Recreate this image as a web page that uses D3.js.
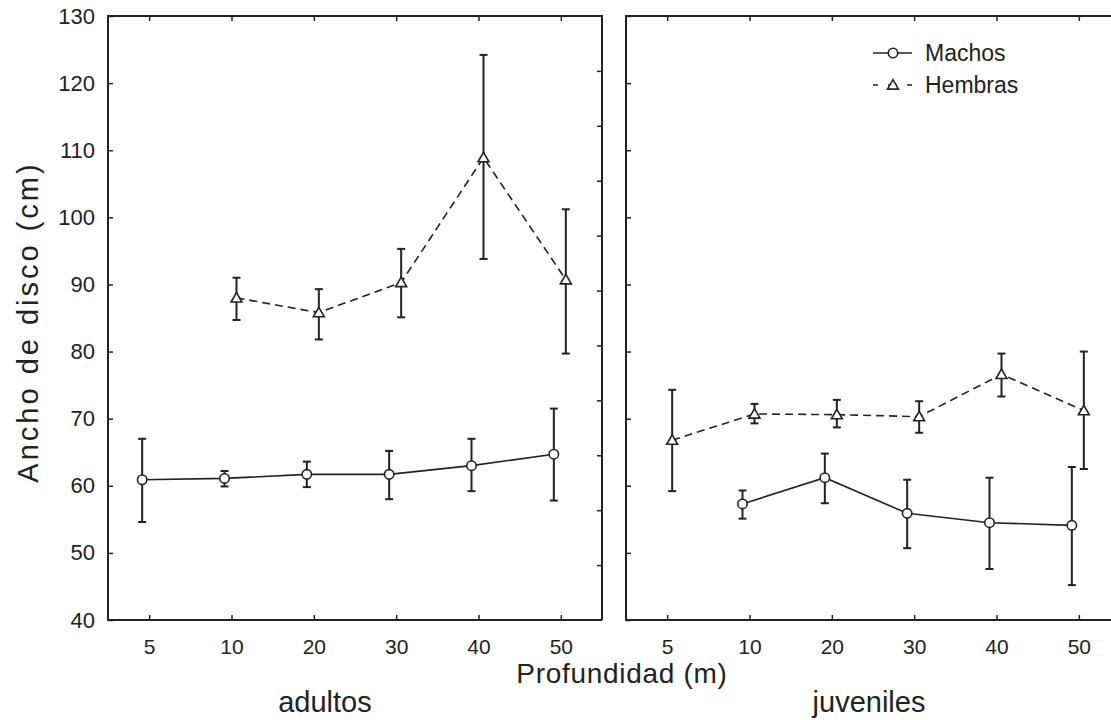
<!DOCTYPE html>
<html>
<head>
<meta charset="utf-8">
<script src="https://cdn.jsdelivr.net/npm/d3@7"></script>
<style>
  html, body { margin: 0; padding: 0; background: #fff; }
  svg { display: block; font-family: "Liberation Sans", Arial, sans-serif; }
</style>
</head>
<body>
<div id="graph"></div>
<script>
// Depth categories (x axis)
const depths = ["5", "10", "20", "30", "40", "50"];
const yTicks = [40, 50, 60, 70, 80, 90, 100, 110, 120, 130];

// adultos: means and error bar ends (null = no data)
const adultosMachos = [60.9, 61.1, 61.7, 61.7, 63.0, 64.7];
const adultosMachosHi = [67.0, 62.2, 63.6, 65.2, 67.0, 71.5];
const adultosMachosLo = [54.6, 59.9, 59.8, 58.0, 59.2, 57.8];
const adultosHembras = [null, 88.0, 85.8, 90.3, 108.9, 90.7];
const adultosHembrasHi = [null, 91.0, 89.3, 95.3, 124.2, 101.2];
const adultosHembrasLo = [null, 84.7, 81.8, 85.1, 93.8, 79.7];

// juveniles
const juvenilesMachos = [null, 57.3, 61.2, 55.9, 54.5, 54.1];
const juvenilesMachosHi = [null, 59.3, 64.8, 60.9, 61.2, 62.8];
const juvenilesMachosLo = [null, 55.1, 57.4, 50.7, 47.6, 45.2];
const juvenilesHembras = [66.8, 70.7, 70.6, 70.3, 76.6, 71.2];
const juvenilesHembrasHi = [74.3, 72.2, 72.8, 72.6, 79.7, 80.0];
const juvenilesHembrasLo = [59.2, 69.3, 68.7, 67.9, 73.3, 62.5];

const W = 1111, H = 720;
const ink = "#222";
const plotTop = 16, plotBottom = 620;

const svg = d3.select("#graph").append("svg")
  .attr("width", W).attr("height", H);

const y = d3.scaleLinear().domain([40, 130]).range([plotBottom, plotTop]);

function series(mean, hi, lo) {
  return depths.map((d, i) => ({ depth: d, v: mean[i], hi: hi[i], lo: lo[i] }))
    .filter(p => p.v != null);
}

const panels = [
  {
    name: "adultos", x0: 108, x1: 602, labels: true, labelX: 325,
    machos: series(adultosMachos, adultosMachosHi, adultosMachosLo),
    hembras: series(adultosHembras, adultosHembrasHi, adultosHembrasLo),
  },
  {
    name: "juveniles", x0: 626, x1: 1120, labels: false, labelX: 869,
    machos: series(juvenilesMachos, juvenilesMachosHi, juvenilesMachosLo),
    hembras: series(juvenilesHembras, juvenilesHembrasHi, juvenilesHembrasLo),
  },
];

const triangle = d3.symbol().type(d3.symbolTriangle).size(52);

panels.forEach((p, pi) => {
  const x = d3.scalePoint().domain(depths).range([p.x0, p.x1]).padding(0.5);
  const g = svg.append("g");

  // Bottom axis, ticks pointing in
  const bAxis = g.append("g")
    .attr("transform", `translate(0,${plotBottom})`)
    .call(d3.axisBottom(x).tickSizeInner(-5).tickSizeOuter(0).tickPadding(19));
  bAxis.select(".domain").remove();
  bAxis.selectAll("text").style("font-size", "21px").attr("fill", ink);

  // Top ticks
  const tAxis = g.append("g")
    .attr("transform", `translate(0,${plotTop})`)
    .call(d3.axisTop(x).tickSizeInner(-5).tickSizeOuter(0).tickFormat(""));
  tAxis.select(".domain").remove();

  // Left axis
  const lAxis = g.append("g")
    .attr("transform", `translate(${p.x0},0)`)
    .call(d3.axisLeft(y).tickValues(yTicks).tickSizeInner(-5).tickSizeOuter(0)
      .tickPadding(13).tickFormat(p.labels ? d3.format("d") : ""));
  lAxis.select(".domain").remove();
  lAxis.selectAll("text").style("font-size", "22px").attr("fill", ink);

  // Right-side ticks on the first panel (Statistica style, 11 divisions)
  if (pi === 0) {
    const yr = d3.scaleLinear().domain([0, 11]).range([plotBottom, plotTop]);
    const rAxis = g.append("g")
      .attr("transform", `translate(${p.x1},0)`)
      .call(d3.axisRight(yr).tickValues(d3.range(1, 11)).tickSizeInner(-5)
        .tickSizeOuter(0).tickFormat(""));
    rAxis.select(".domain").remove();
  }
  g.selectAll(".tick line").attr("stroke", ink).attr("stroke-width", 1.5);

  // Frame
  const frame = d3.path();
  frame.moveTo(p.x1, plotBottom);
  frame.lineTo(p.x0, plotBottom);
  frame.lineTo(p.x0, plotTop);
  frame.lineTo(p.x1, plotTop);
  if (pi === 0) frame.lineTo(p.x1, plotBottom);
  g.append("path").attr("d", frame.toString())
    .attr("fill", "none").attr("stroke", ink).attr("stroke-width", 2);

  // Panel name
  g.append("text")
    .attr("x", p.labelX).attr("y", 712)
    .attr("text-anchor", "middle")
    .style("font-size", "29px").attr("fill", ink)
    .text(p.name);

  // Series
  const sets = [
    { data: p.machos, off: -7, dash: null, marker: "circle" },
    { data: p.hembras, off: 5, dash: "8,5", marker: "triangle" },
  ];
  sets.forEach(s => {
    const px = d => x(d.depth) + s.off;
    const line = d3.line().x(px).y(d => y(d.v));
    g.append("path").datum(s.data)
      .attr("d", line)
      .attr("fill", "none").attr("stroke", ink).attr("stroke-width", 1.6)
      .attr("stroke-dasharray", s.dash);

    // error bars
    const eb = g.append("g").selectAll("g").data(s.data).join("g")
      .attr("stroke", ink).attr("stroke-width", 2);
    eb.append("line")
      .attr("x1", px).attr("x2", px)
      .attr("y1", d => y(d.hi)).attr("y2", d => y(d.lo));
    eb.append("line")
      .attr("x1", d => px(d) - 4).attr("x2", d => px(d) + 4)
      .attr("y1", d => y(d.hi)).attr("y2", d => y(d.hi));
    eb.append("line")
      .attr("x1", d => px(d) - 4).attr("x2", d => px(d) + 4)
      .attr("y1", d => y(d.lo)).attr("y2", d => y(d.lo));

    // markers
    if (s.marker === "circle") {
      g.append("g").selectAll("circle").data(s.data).join("circle")
        .attr("cx", px).attr("cy", d => y(d.v)).attr("r", 4.7)
        .attr("fill", "#fff").attr("stroke", ink).attr("stroke-width", 1.6);
    } else {
      g.append("g").selectAll("path").data(s.data).join("path")
        .attr("d", triangle)
        .attr("transform", d => `translate(${px(d)},${y(d.v) + 1})`)
        .attr("fill", "#fff").attr("stroke", ink).attr("stroke-width", 1.6);
    }
  });
});

// Axis titles
svg.append("text")
  .attr("transform", `translate(38,${322}) rotate(-90)`)
  .attr("text-anchor", "middle")
  .style("font-size", "29px").style("letter-spacing", "3px").attr("fill", ink)
  .text("Ancho de disco (cm)");

svg.append("text")
  .attr("x", 622).attr("y", 683)
  .attr("text-anchor", "middle")
  .style("font-size", "28px").style("letter-spacing", "0.7px").attr("fill", ink)
  .text("Profundidad (m)");

// Legend
const legend = svg.append("g").attr("transform", "translate(873,0)");
legend.append("line").attr("x1", 0).attr("x2", 39).attr("y1", 53).attr("y2", 53)
  .attr("stroke", ink).attr("stroke-width", 1.6);
legend.append("circle").attr("cx", 20).attr("cy", 53).attr("r", 4.7)
  .attr("fill", "#fff").attr("stroke", ink).attr("stroke-width", 1.6);
legend.append("line").attr("x1", 0).attr("x2", 39).attr("y1", 85).attr("y2", 85)
  .attr("stroke", ink).attr("stroke-width", 1.6).attr("stroke-dasharray", "5,10,9,10,5");
legend.append("path").attr("d", triangle)
  .attr("transform", "translate(20,86)")
  .attr("fill", "#fff").attr("stroke", ink).attr("stroke-width", 1.6);
legend.append("text").attr("x", 52).attr("y", 61)
  .style("font-size", "23px").attr("fill", ink).text("Machos");
legend.append("text").attr("x", 52).attr("y", 93)
  .style("font-size", "23px").attr("fill", ink).text("Hembras");
</script>
</body>
</html>
